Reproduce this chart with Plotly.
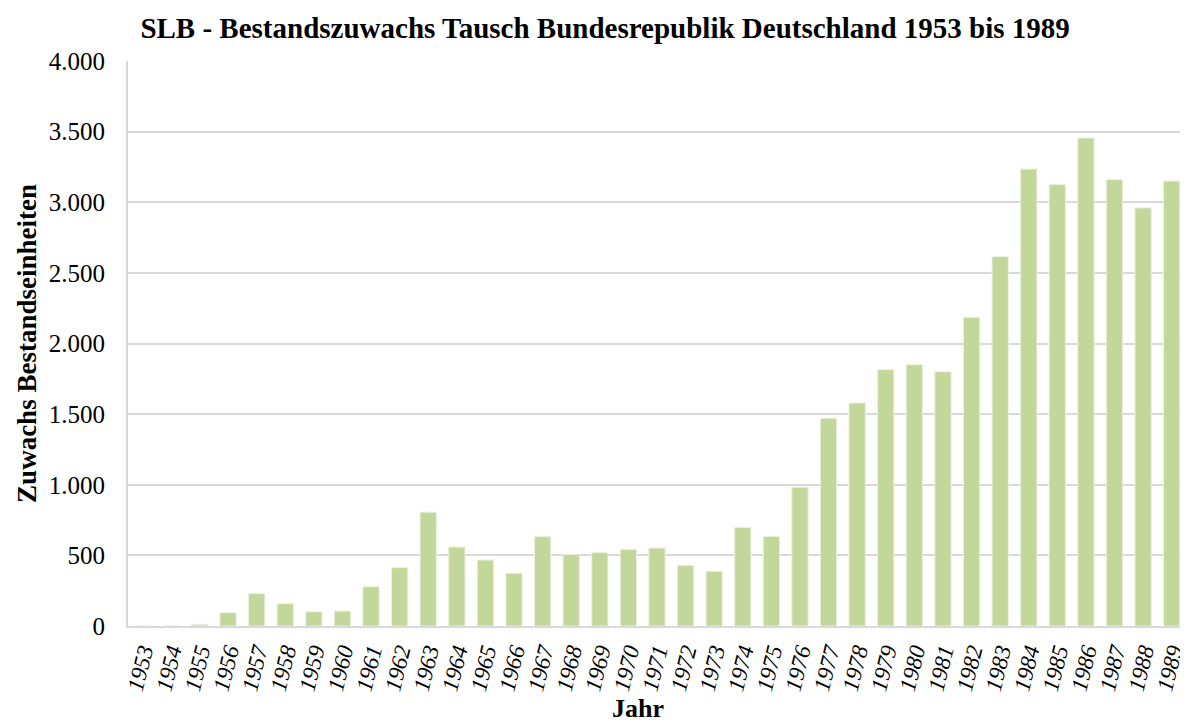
import plotly.graph_objects as go

years = [str(y) for y in range(1953, 1990)]
values = [0, 0, 12, 94, 229, 158, 101, 106, 278, 413, 806, 559, 467, 373,
          632, 507, 519, 542, 552, 429, 387, 698, 634, 983, 1471, 1579,
          1815, 1850, 1800, 2185, 2615, 3235, 3125, 3455, 3160, 2960, 3150]

y_ticks = [0, 500, 1000, 1500, 2000, 2500, 3000, 3500, 4000]

font_family = "Liberation Serif"

fig = go.Figure(go.Bar(
    x=years, y=values,
    marker=dict(color="#C4D79B", line=dict(color="#EAF1DD", width=1)),
))

# The page body adds an 8px margin; figure is sized to fit the 1188x722 window.
fig.update_layout(
    width=1180, height=714,
    margin=dict(l=120, r=2, t=53, b=96),
    paper_bgcolor="white", plot_bgcolor="white",
    separators=",.",
    bargap=0.43,
    showlegend=False,
    title=dict(text="<b>SLB - Bestandszuwachs Tausch Bundesrepublik Deutschland 1953 bis 1989</b>",
               x=0.506, xanchor="center", y=0.972, yanchor="middle",
               font=dict(family=font_family, size=29, color="black")),
    font=dict(family=font_family, color="black"),
    annotations=[dict(text="<b>Jahr</b>", xref="paper", yref="paper",
                      x=0.482, y=-0.146, xanchor="center", yanchor="middle",
                      showarrow=False, font=dict(family=font_family, size=26, color="black"))],
)

fig.update_xaxes(
    type="category",
    tickmode="array", tickvals=years, ticktext=years,
    tickangle=-76,
    tickfont=dict(family=font_family, size=23, style="italic", color="black"),
    showline=True, linecolor="#D9D9D9", linewidth=2,
    showgrid=False,
    ticks="outside", ticklen=1, tickcolor="white",
    automargin=False,
)

fig.update_yaxes(
    range=[0, 4000],
    tickvals=y_ticks,
    tickformat=",d",
    tickfont=dict(family=font_family, size=25, color="black"),
    showline=True, linecolor="#D9D9D9", linewidth=2,
    showgrid=True, gridcolor="#D9D9D9", gridwidth=1.5,
    ticks="outside", ticklen=16, tickcolor="white",
    zeroline=False,
    automargin=False,
    title=dict(text="<b>Zuwachs Bestandseinheiten</b>", font=dict(family=font_family, size=27), standoff=4),
)

fig.write_html("out.html")
